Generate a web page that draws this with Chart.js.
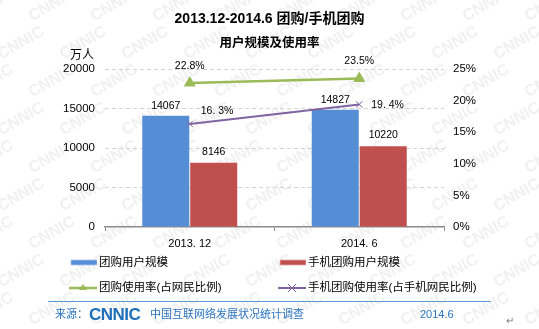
<!DOCTYPE html>
<html lang="zh-CN">
<head>
<meta charset="UTF-8">
<title>团购/手机团购用户规模及使用率</title>
<style>
    body {
        margin: 0;
        background: #fff;
        font-family: "Liberation Sans", Arial, "Noto Sans CJK SC", sans-serif;
    }
    #wrap {
        position: relative;
        width: 539px;
        height: 329px;
        overflow: hidden;
    }
    #myChart {
        position: absolute;
        left: 0;
        top: 0;
    }
    .txt {
        position: absolute;
        white-space: nowrap;
        line-height: 1;
    }
    .title1 { font-weight: bold; font-size: 14px; left: 0; width: 539px; text-align: center; top: 11px; }
    .title2 { font-weight: bold; font-size: 12.5px; left: 0; width: 539px; text-align: center; top: 37px; }
    .unit { font-size: 12px; left: 70px; top: 49px; }
    .leg { font-size: 11.5px; color: #000; }
    .leg svg { position: absolute; left: -30px; top: -1px; }
    .src { color: #2a74c0; font-size: 11px; }
    .logo { color: #1e6fba; font-weight: bold; font-size: 17px; letter-spacing: -0.5px; }
    #rule {
        position: absolute;
        left: 48px;
        top: 301px;
        width: 443px;
        height: 0;
        border-top: 1.5px solid #5b9bd5;
    }
</style>
</head>
<body>
<div id="wrap">
    <canvas id="myChart" width="539" height="329"></canvas>

    <div class="txt title1">2013.12-2014.6 团购/手机团购</div>
    <div class="txt title2">用户规模及使用率</div>
    <div class="txt unit">万人</div>

    <!-- 凡例 -->
    <div class="txt leg" style="left:99px; top:257px;">
        <svg width="28" height="14"><rect x="2" y="4" width="26" height="5" fill="#558ed5" stroke="#a9c4ea" stroke-width="0.8"/></svg>团购用户规模
    </div>
    <div class="txt leg" style="left:308px; top:257px;">
        <svg width="28" height="14"><rect x="2" y="4" width="26" height="5" fill="#c0504d" stroke="#e3a9a7" stroke-width="0.8"/></svg>手机团购用户规模
    </div>
    <div class="txt leg" style="left:99px; top:282px;">
        <svg width="28" height="14"><line x1="0" y1="7" x2="28" y2="7" stroke="#9bbb59" stroke-width="2.5"/><polygon points="14,3 18,9 10,9" fill="#9bbb59"/></svg>团购使用率(占网民比例)
    </div>
    <div class="txt leg" style="left:308px; top:282px;">
        <svg width="28" height="14"><line x1="0" y1="7" x2="28" y2="7" stroke="#8064a2" stroke-width="2"/><path d="M10,3 L18,11 M18,3 L10,11" stroke="#8064a2" stroke-width="1"/></svg>手机团购使用率(占手机网民比例)
    </div>

    <!-- 出典 -->
    <div id="rule"></div>
    <div class="txt src" style="left:55px; top:309px;">来源：</div>
    <div class="txt logo" style="left:89px; top:306px;">CNNIC</div>
    <div class="txt src" style="left:150px; top:309px;">中国互联网络发展状况统计调查</div>
    <div class="txt src" style="left:420px; top:309px;">2014.6</div>
    <div class="txt" style="left:506px; top:316px; font-size:10px; color:#777;">↵</div>
</div>

<script src="https://cdn.jsdelivr.net/npm/chart.js"></script>
<script>
    // データ
    const categories = ['2013. 12', '2014. 6'];
    const groupBuyUsers = [14067, 14827];        // 团购用户规模（万人）
    const mobileGroupBuyUsers = [8146, 10220];   // 手机团购用户规模（万人）
    const groupBuyRate = [22.8, 23.5];           // 团购使用率（%）
    const mobileGroupBuyRate = [16.3, 19.4];     // 手机团购使用率（%）
    const leftTicks = [0, 5000, 10000, 15000, 20000];
    const rightTicks = [0, 5, 10, 15, 20, 25];

    const fontFamily = '"Liberation Sans", Arial, "Noto Sans CJK SC", sans-serif';

    // 背景の透かし文字
    const watermark = {
        id: 'watermark',
        beforeDraw(chart) {
            const ctx = chart.ctx;
            ctx.save();
            ctx.fillStyle = '#ffffff';
            ctx.fillRect(0, 0, chart.width, chart.height);
            ctx.fillStyle = '#f1f1f1';
            ctx.font = 'bold 16px ' + fontFamily;
            ctx.textAlign = 'center';
            ctx.textBaseline = 'middle';
            for (let row = 0; row < 10; row++) {
                for (let col = 0; col < 11; col++) {
                    const x = col * 62 + (row % 2) * 31 - 10;
                    const y = row * 38 + 5;
                    ctx.save();
                    ctx.translate(x, y);
                    ctx.rotate(-Math.PI / 6);
                    ctx.fillText('CNNIC', 0, 0);
                    ctx.restore();
                }
            }
            ctx.restore();
        }
    };

    // 数値ラベル
    const valueLabels = {
        id: 'valueLabels',
        afterDatasetsDraw(chart) {
            const ctx = chart.ctx;
            ctx.save();
            ctx.fillStyle = '#000';
            ctx.font = '10.5px ' + fontFamily;
            ctx.textBaseline = 'middle';
            chart.data.datasets.forEach((ds, i) => {
                const meta = chart.getDatasetMeta(i);
                const lab = ds.labelStyle;
                meta.data.forEach((el, j) => {
                    const off = lab.offsets[j];
                    ctx.textAlign = lab.align;
                    ctx.fillText(lab.format(ds.data[j]), el.x + off[0], el.y + off[1]);
                });
            });
            ctx.restore();
        }
    };

    const ctx = document.getElementById('myChart').getContext('2d');
    new Chart(ctx, {
        data: {
            labels: categories,
            datasets: [
                {
                    type: 'line',
                    label: '团购使用率(占网民比例)',
                    data: groupBuyRate,
                    yAxisID: 'y2',
                    borderColor: '#9bbb59',
                    backgroundColor: '#9bbb59',
                    borderWidth: 2.5,
                    pointStyle: 'triangle',
                    pointRadius: 4.5,
                    order: 0,
                    labelStyle: { align: 'center', offsets: [[0, -17], [0, -17]], format: v => v.toFixed(1) + '%' }
                },
                {
                    type: 'line',
                    label: '手机团购使用率(占手机网民比例)',
                    data: mobileGroupBuyRate,
                    yAxisID: 'y2',
                    borderColor: '#8064a2',
                    backgroundColor: '#8064a2',
                    borderWidth: 2,
                    pointStyle: 'crossRot',
                    pointRadius: 4.5,
                    pointBorderWidth: 1,
                    order: 0,
                    labelStyle: { align: 'left', offsets: [[11, -13], [12, 1]], format: v => v.toFixed(1).replace('.', '. ') + '%' }
                },
                {
                    type: 'bar',
                    label: '团购用户规模',
                    data: groupBuyUsers,
                    yAxisID: 'y',
                    backgroundColor: '#558ed5',
                    barPercentage: 0.98,
                    categoryPercentage: 0.566,
                    order: 1,
                    labelStyle: { align: 'center', offsets: [[0, -10], [0, -10]], format: v => String(v) }
                },
                {
                    type: 'bar',
                    label: '手机团购用户规模',
                    data: mobileGroupBuyUsers,
                    yAxisID: 'y',
                    backgroundColor: '#c0504d',
                    barPercentage: 0.98,
                    categoryPercentage: 0.566,
                    order: 1,
                    labelStyle: { align: 'center', offsets: [[0, -11], [0, -11]], format: v => String(v) }
                }
            ]
        },
        options: {
            responsive: false,
            animation: false,
            layout: { padding: { top: 69, left: 0, right: 0, bottom: 0 } },
            plugins: {
                legend: { display: false },
                tooltip: { enabled: false }
            },
            scales: {
                x: {
                    offset: true,
                    afterFit: s => { s.height = 102; },
                    grid: {
                        display: true,
                        offset: true,
                        drawOnChartArea: false,
                        drawTicks: true,
                        tickLength: 4,
                        color: '#8c8c8c'
                    },
                    border: { display: true, color: '#8c8c8c', width: 1.5 },
                    ticks: { color: '#000', padding: 6, font: { family: fontFamily, size: 11 } }
                },
                y: {
                    position: 'left',
                    min: 0,
                    max: 20000,
                    afterFit: s => { s.width = 105; },
                    afterBuildTicks: s => { s.ticks = leftTicks.map(v => ({ value: v })); },
                    grid: {
                        drawTicks: false,
                        color: c => c.tick.value === 0 ? 'rgba(0,0,0,0)' : '#d4d4d4'
                    },
                    border: { display: false, dash: [4, 3] },
                    ticks: {
                        color: '#000',
                        padding: 10,
                        font: { family: fontFamily, size: 11.5 },
                        callback: v => String(v)
                    }
                },
                y2: {
                    position: 'right',
                    min: 0,
                    max: 25,
                    afterFit: s => { s.width = 95; },
                    afterBuildTicks: s => { s.ticks = rightTicks.map(v => ({ value: v })); },
                    grid: { drawOnChartArea: false, drawTicks: false },
                    border: { display: false },
                    ticks: {
                        color: '#000',
                        padding: 9,
                        font: { family: fontFamily, size: 11.5 },
                        callback: v => v + '%'
                    }
                }
            }
        },
        plugins: [watermark, valueLabels]
    });
</script>
</body>
</html>
